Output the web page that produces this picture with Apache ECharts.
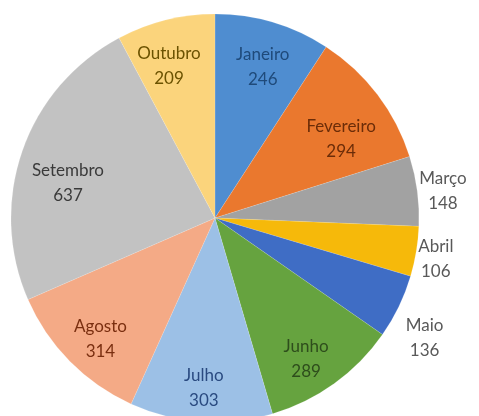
<!DOCTYPE html>
<html>
<head>
<meta charset="utf-8">
<script src="https://cdn.jsdelivr.net/npm/echarts@6/dist/echarts.min.js"></script>
<style>html,body{margin:0;padding:0;background:#fff;}#c{width:479px;height:416px;}</style>
</head>
<body>
<div id="c"></div>
<script>
const categories = ['Janeiro','Fevereiro','Março','Abril','Maio','Junho','Julho','Agosto','Setembro','Outubro'];
const values = [246, 294, 148, 106, 136, 289, 303, 314, 637, 209];
const sliceColors = ['#4f8dd0','#ea782e','#a2a2a2','#f6b90a','#3f6dc5','#66a33f','#9cc0e6','#f4aa86','#c2c2c2','#fbd47c'];
const labelColors = ['#1f4a7a','#6b2c08','#595959','#595959','#595959','#2e4d1c','#2a4a80','#7a2f10','#3a3a3a','#6b5200'];
const outsideLabels = ['Março','Abril','Maio'];
// fine label nudges (px), best-fit style placement
const labelNudge = [[2,3],[-2,18],[-6,4],[-12,2],[-3,18],[-3,10],[0,9],[0,8],[5,18],[-7,4]];

const center = [215, 218];
const fontFamily = 'Lato, "Open Sans", sans-serif';

function mkData(showFn) {
  return categories.map((name, i) => ({
    name, value: values[i],
    label: { show: showFn(name), color: labelColors[i] }
  }));
}
const nudge = p => ({ dx: labelNudge[p.dataIndex][0], dy: labelNudge[p.dataIndex][1] });

const chart = echarts.init(document.getElementById('c'), null, {renderer: 'canvas'});
chart.setOption({
  animation: false,
  backgroundColor: '#ffffff',
  series: [
    {
      type: 'pie', center, radius: [0, 204], startAngle: 90, clockwise: true,
      data: categories.map((name, i) => ({ name, value: values[i], itemStyle: { color: sliceColors[i] } })),
      label: { show: false }, labelLine: { show: false },
      itemStyle: { borderColor: 'rgba(255,255,255,0.25)', borderWidth: 0.5 },
      silent: true
    },
    {
      type: 'pie', center, radius: [0, 316], startAngle: 90, clockwise: true,
      avoidLabelOverlap: false,
      itemStyle: { color: 'rgba(0,0,0,0)' },
      data: mkData(n => !outsideLabels.includes(n)),
      label: { position: 'inside', formatter: '{b}\n{c}', fontFamily, fontSize: 17, lineHeight: 25, align: 'center' },
      labelLayout: nudge,
      labelLine: { show: false }, silent: true
    },
    {
      type: 'pie', center, radius: [0, 466], startAngle: 90, clockwise: true,
      avoidLabelOverlap: false,
      itemStyle: { color: 'rgba(0,0,0,0)' },
      data: mkData(n => outsideLabels.includes(n)),
      label: { position: 'inside', formatter: '{b}\n{c}', fontFamily, fontSize: 17, lineHeight: 25, align: 'center' },
      labelLayout: nudge,
      labelLine: { show: false }, silent: true
    }
  ]
});
</script>
</body>
</html>
